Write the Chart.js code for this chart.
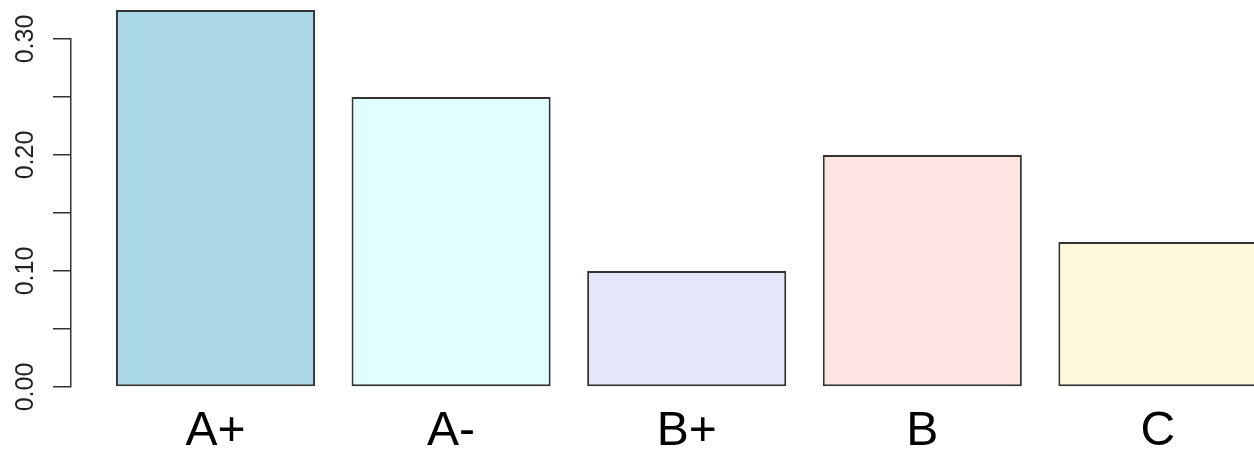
<!DOCTYPE html>
<html>
<head>
<meta charset="utf-8">
<script src="https://cdn.jsdelivr.net/npm/chart.js@4/dist/chart.umd.min.js"></script>
<style>
  html, body { margin: 0; padding: 0; background: #ffffff; overflow: hidden; }
  #wrap { width: 1254px; height: 457px; overflow: hidden; }
</style>
</head>
<body>
<div id="wrap"><canvas id="myChartNotas" width="1272" height="457"></canvas></div>
<script>
var categorias = ['A+', 'A-', 'B+', 'B', 'C'];
var proporcoes = [0.325, 0.25, 0.10, 0.20, 0.125];
var cores = ['#ADD8E6', '#E0FFFF', '#E6E6FA', '#FFE4E1', '#FFF8DC'];
var yTicks = [0, 0.05, 0.10, 0.15, 0.20, 0.25, 0.30];
var yLabels = ['0.00', '', '0.10', '', '0.20', '', '0.30'];

const ctxNotas = document.getElementById("myChartNotas");

// canvas um pouco mais largo que a janela: a barra C fica cortada na borda
var myChartNotas = new Chart(ctxNotas, {
    type: 'bar',
    data: {
        datasets: [{
            label: 'Notas',
            data: proporcoes.map(function (v, i) { return { x: i, y: v }; }),
            backgroundColor: cores,
            borderColor: '#333333',
            borderWidth: 2,
            borderSkipped: false,
            barPercentage: 0.845,
            categoryPercentage: 1,
            clip: false
        }]
    },
    options: {
        responsive: false,
        animation: false,
        layout: {
            padding: { top: 39, left: 0, right: 0, bottom: 0 }
        },
        scales: {
            x: {
                type: 'linear',
                offset: false,
                min: -0.6133,
                max: 4.4843,
                grid: { display: false, offset: false },
                border: { display: false },
                afterBuildTicks: function (scale) {
                    scale.ticks = categorias.map(function (c, i) { return { value: i }; });
                },
                afterFit: function (scale) {
                    scale.height = 70;
                },
                ticks: {
                    autoSkip: false,
                    maxRotation: 0,
                    padding: 8,
                    color: '#000000',
                    font: { family: 'Liberation Sans', size: 48 },
                    callback: function (v) { return categorias[v]; }
                }
            },
            y: {
                min: 0,
                max: 0.30,
                afterBuildTicks: function (scale) {
                    scale.ticks = yTicks.map(function (v) { return { value: v }; });
                },
                afterFit: function (scale) {
                    scale.width = 71;
                },
                grid: {
                    drawOnChartArea: false,
                    tickLength: 18,
                    color: '#333333',
                    lineWidth: 1.5
                },
                border: {
                    display: true,
                    color: '#333333',
                    width: 1.5
                },
                ticks: {
                    minRotation: 90,
                    maxRotation: 90,
                    crossAlign: 'center',
                    padding: 3,
                    color: '#222222',
                    font: { family: 'Liberation Sans', size: 25 },
                    callback: function (v, i) { return yLabels[i]; }
                }
            }
        },
        plugins: {
            legend: { display: false },
            tooltip: { enabled: false }
        }
    }
});
</script>
</body>
</html>
